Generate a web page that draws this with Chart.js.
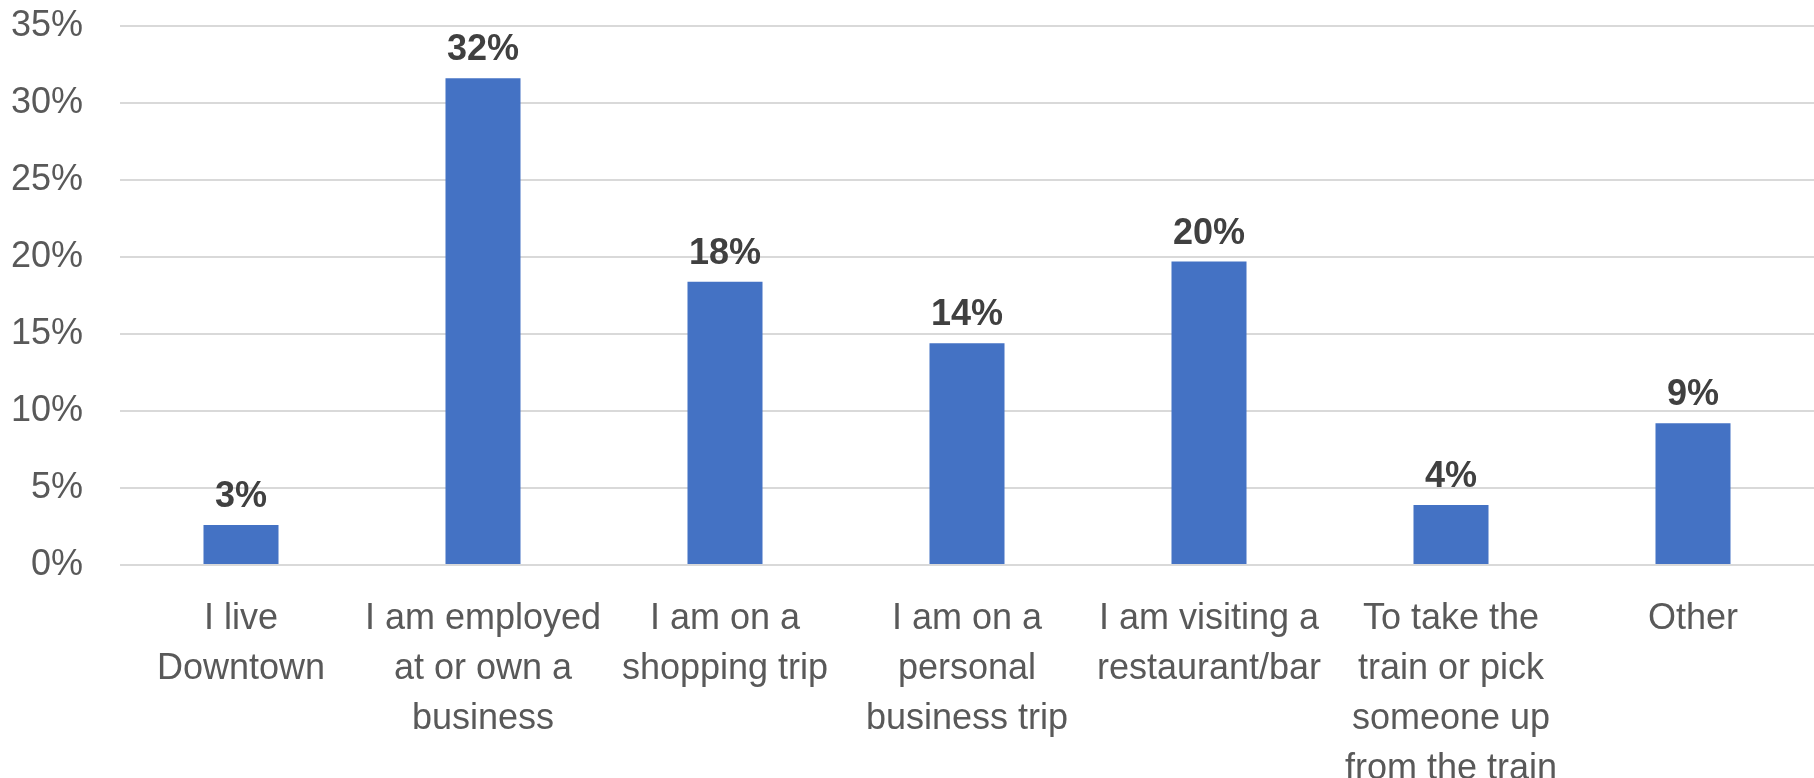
<!DOCTYPE html>
<html>
<head>
<meta charset="utf-8">
<script src="https://cdn.jsdelivr.net/npm/chart.js@4/dist/chart.umd.min.js"></script>
<style>
  html, body { margin: 0; padding: 0; background: #ffffff; }
  #wrap { width: 1814px; height: 778px; }
</style>
</head>
<body>
<div id="wrap"><canvas id="canvas1" width="1814" height="778"></canvas></div>
<script>
// reasons for coming downtown, share of responses (%)
let reasons = [
  ['I live', 'Downtown'],
  ['I am employed', 'at or own a', 'business'],
  ['I am on a', 'shopping trip'],
  ['I am on a', 'personal', 'business trip'],
  ['I am visiting a', 'restaurant/bar'],
  ['To take the', 'train or pick', 'someone up', 'from the train'],
  ['Other']
];
let shares = [2.6, 31.6, 18.4, 14.4, 19.7, 3.9, 9.2];
let yTicks = [0, 5, 10, 15, 20, 25, 30, 35];

let fontFamily = "'Liberation Sans', Arial, sans-serif";

// writes the rounded percentage above each bar
let barValues = {
  id: 'barValues',
  afterDatasetsDraw(chart) {
    let ctx = chart.ctx;
    let meta = chart.getDatasetMeta(0);
    ctx.save();
    ctx.font = 'bold 36px ' + fontFamily;
    ctx.fillStyle = '#404040';
    ctx.textAlign = 'center';
    ctx.textBaseline = 'alphabetic';
    meta.data.forEach(function(bar, i) {
      ctx.fillText(Math.round(shares[i]) + '%', bar.x, bar.y - 18);
    });
    ctx.restore();
  }
};

let myChart = document.getElementById('canvas1').getContext('2d');
let reasonChart = new Chart(myChart, {
  type: 'bar',
  data: {
    labels: reasons,
    datasets: [{
      data: shares,
      backgroundColor: '#4472C4',
      barPercentage: 0.31,
      categoryPercentage: 1
    }]
  },
  options: {
    responsive: false,
    animation: false,
    layout: { padding: 0 },
    plugins: {
      legend: { display: false },
      tooltip: { enabled: false }
    },
    scales: {
      x: {
        grid: { display: false },
        border: { display: false },
        ticks: {
          color: '#595959',
          font: { family: fontFamily, size: 36, lineHeight: 1.39 },
          maxRotation: 0,
          autoSkip: false,
          padding: 21
        },
        afterFit: function(scale) { scale.height = 213; }
      },
      y: {
        min: 0,
        max: 35,
        afterBuildTicks: function(scale) {
          scale.ticks = yTicks.map(function(v) { return { value: v }; });
        },
        grid: { color: '#D9D9D9', lineWidth: 2, drawTicks: false },
        border: { display: false },
        ticks: {
          color: '#595959',
          font: { family: fontFamily, size: 36 },
          padding: 37,
          callback: function(v) { return v + '%'; }
        },
        afterFit: function(scale) {
          scale.width = 120;
          scale.paddingTop = 26;
          scale.paddingBottom = 0;
        }
      }
    }
  },
  plugins: [barValues]
});
</script>
</body>
</html>
